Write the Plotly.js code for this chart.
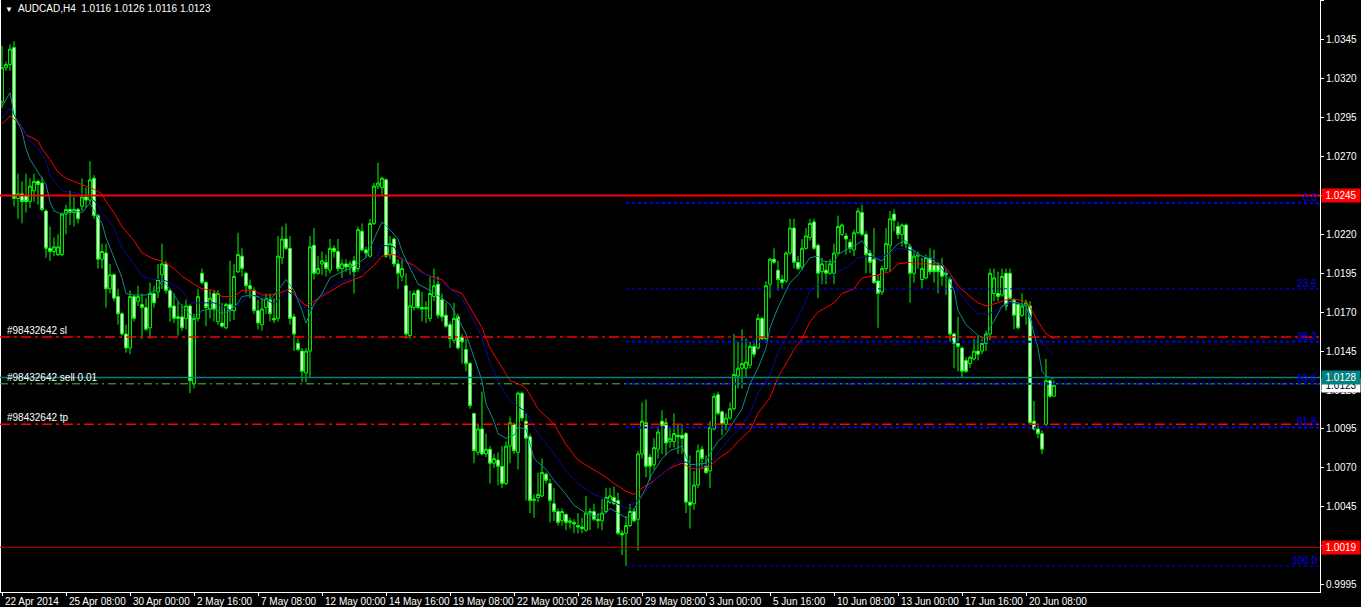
<!DOCTYPE html>
<html><head><meta charset="utf-8">
<script src="https://cdn.plot.ly/plotly-3.0.1.min.js"></script>
<style>html,body{margin:0;padding:0;background:#000;overflow:hidden}#chart{width:1361px;height:607px}</style>
</head><body><div id="chart"></div>
<script>
// ---- OHLC (AUDCAD H4), one entry per bar ----
const opens = [1.0305,1.0327,1.0329,1.0340,1.0243,1.0246,1.0245,1.0241,1.0248,1.0254,1.0253,1.0235,1.0211,1.0209,1.0207,1.0207,1.0233,1.0236,1.0234,1.0236,
1.0238,1.0244,1.0242,1.0256,1.0232,1.0204,1.0208,1.0185,1.0194,1.0180,1.0169,1.0156,1.0147,1.0180,1.0177,1.0175,1.0173,1.0160,1.0182,1.0183,
1.0194,1.0201,1.0184,1.0174,1.0167,1.0167,1.0166,1.0174,1.0124,1.0166,1.0195,1.0189,1.0172,1.0182,1.0164,1.0163,1.0160,1.0175,1.0171,1.0196,
1.0206,1.0195,1.0187,1.0184,1.0171,1.0162,1.0173,1.0178,1.0166,1.0166,1.0205,1.0217,1.0211,1.0167,1.0150,1.0145,1.0131,1.0145,1.0213,1.0195,
1.0201,1.0202,1.0197,1.0211,1.0209,1.0198,1.0201,1.0199,1.0203,1.0198,1.0222,1.0210,1.0206,1.0227,1.0251,1.0250,1.0255,1.0207,1.0217,1.0201,
1.0193,1.0187,1.0155,1.0173,1.0184,1.0173,1.0172,1.0166,1.0180,1.0188,1.0178,1.0168,1.0162,1.0152,1.0167,1.0154,1.0146,1.0137,1.0105,1.0080,
1.0095,1.0079,1.0082,1.0073,1.0075,1.0071,1.0060,1.0084,1.0098,1.0080,1.0118,1.0100,1.0090,1.0049,1.0051,1.0052,1.0066,1.0060,1.0047,1.0042,
1.0036,1.0040,1.0035,1.0035,1.0033,1.0032,1.0030,1.0041,1.0042,1.0037,1.0036,1.0042,1.0048,1.0051,1.0049,1.0028,1.0028,1.0033,1.0042,1.0037,
1.0079,1.0099,1.0077,1.0072,1.0082,1.0100,1.0099,1.0087,1.0087,1.0091,1.0091,1.0092,1.0048,1.0047,1.0059,1.0082,1.0071,1.0068,1.0095,1.0117,
1.0106,1.0098,1.0102,1.0108,1.0129,1.0134,1.0134,1.0136,1.0148,1.0147,1.0166,1.0153,1.0188,1.0204,1.0197,1.0191,1.0190,1.0208,1.0224,1.0202,
1.0199,1.0211,1.0218,1.0228,1.0213,1.0196,1.0197,1.0195,1.0195,1.0208,1.0220,1.0219,1.0215,1.0210,1.0221,1.0234,1.0220,1.0208,1.0204,1.0190,
1.0183,1.0198,1.0213,1.0233,1.0225,1.0220,1.0226,1.0212,1.0195,1.0206,1.0191,1.0192,1.0205,1.0200,1.0200,1.0200,1.0195,1.0191,1.0156,1.0150,
1.0147,1.0139,1.0137,1.0140,1.0145,1.0145,1.0150,1.0156,1.0182,1.0182,1.0181,1.0195,1.0195,1.0178,1.0175,1.0168,1.0174,1.0174,1.0100,1.0095,
1.0092,1.0098,1.0126,1.0116];
const highs = [1.0341,1.0331,1.0342,1.0344,1.0259,1.0254,1.0259,1.0256,1.0259,1.0255,1.0257,1.0236,1.0225,1.0218,1.0220,1.0234,1.0239,1.0248,1.0244,1.0237,
1.0256,1.0250,1.0267,1.0258,1.0233,1.0214,1.0214,1.0201,1.0195,1.0185,1.0170,1.0162,1.0184,1.0181,1.0187,1.0182,1.0179,1.0189,1.0187,1.0201,
1.0214,1.0203,1.0185,1.0182,1.0177,1.0175,1.0178,1.0175,1.0169,1.0185,1.0198,1.0190,1.0184,1.0184,1.0184,1.0176,1.0176,1.0203,1.0201,1.0221,
1.0211,1.0196,1.0191,1.0186,1.0178,1.0179,1.0182,1.0182,1.0179,1.0219,1.0225,1.0227,1.0219,1.0169,1.0153,1.0147,1.0147,1.0219,1.0224,1.0206,
1.0209,1.0207,1.0217,1.0213,1.0217,1.0204,1.0204,1.0203,1.0206,1.0225,1.0227,1.0212,1.0230,1.0253,1.0266,1.0257,1.0256,1.0219,1.0218,1.0204,
1.0205,1.0195,1.0184,1.0184,1.0185,1.0183,1.0177,1.0193,1.0198,1.0193,1.0182,1.0176,1.0164,1.0176,1.0169,1.0156,1.0153,1.0138,1.0105,1.0098,
1.0119,1.0092,1.0084,1.0079,1.0080,1.0084,1.0087,1.0103,1.0099,1.0119,1.0119,1.0105,1.0092,1.0053,1.0067,1.0076,1.0067,1.0063,1.0057,1.0044,
1.0044,1.0041,1.0038,1.0037,1.0041,1.0038,1.0052,1.0044,1.0047,1.0041,1.0050,1.0057,1.0057,1.0058,1.0054,1.0030,1.0039,1.0047,1.0044,1.0081,
1.0112,1.0114,1.0079,1.0089,1.0097,1.0107,1.0102,1.0096,1.0105,1.0098,1.0098,1.0093,1.0078,1.0068,1.0085,1.0084,1.0078,1.0100,1.0118,1.0119,
1.0107,1.0105,1.0112,1.0156,1.0151,1.0159,1.0153,1.0151,1.0150,1.0169,1.0167,1.0190,1.0205,1.0211,1.0203,1.0194,1.0209,1.0230,1.0230,1.0206,
1.0217,1.0224,1.0230,1.0230,1.0214,1.0205,1.0203,1.0204,1.0214,1.0232,1.0227,1.0221,1.0217,1.0223,1.0237,1.0239,1.0222,1.0210,1.0224,1.0194,
1.0200,1.0224,1.0235,1.0236,1.0228,1.0227,1.0227,1.0214,1.0210,1.0209,1.0205,1.0207,1.0211,1.0210,1.0202,1.0205,1.0198,1.0193,1.0157,1.0167,
1.0148,1.0141,1.0142,1.0153,1.0155,1.0153,1.0158,1.0198,1.0198,1.0196,1.0198,1.0198,1.0198,1.0179,1.0176,1.0182,1.0178,1.0177,1.0113,1.0097,
1.0094,1.0140,1.0127,1.0126];
const lows = [1.0301,1.0325,1.0325,1.0238,1.0230,1.0227,1.0234,1.0237,1.0241,1.0239,1.0235,1.0205,1.0203,1.0206,1.0206,1.0206,1.0220,1.0226,1.0225,1.0227,
1.0235,1.0237,1.0240,1.0230,1.0198,1.0198,1.0173,1.0182,1.0177,1.0162,1.0155,1.0144,1.0143,1.0164,1.0174,1.0153,1.0158,1.0153,1.0173,1.0179,
1.0185,1.0182,1.0164,1.0163,1.0155,1.0158,1.0159,1.0118,1.0121,1.0164,1.0188,1.0161,1.0166,1.0164,1.0162,1.0160,1.0159,1.0164,1.0165,1.0195,
1.0193,1.0182,1.0179,1.0169,1.0159,1.0158,1.0169,1.0164,1.0163,1.0164,1.0201,1.0210,1.0162,1.0145,1.0145,1.0125,1.0125,1.0128,1.0191,1.0194,
1.0194,1.0193,1.0195,1.0205,1.0196,1.0192,1.0196,1.0194,1.0182,1.0196,1.0209,1.0205,1.0205,1.0226,1.0249,1.0245,1.0205,1.0204,1.0199,1.0185,
1.0190,1.0153,1.0153,1.0171,1.0172,1.0164,1.0163,1.0164,1.0177,1.0166,1.0164,1.0160,1.0147,1.0150,1.0146,1.0137,1.0132,1.0108,1.0073,1.0078,
1.0078,1.0077,1.0060,1.0070,1.0059,1.0057,1.0059,1.0073,1.0079,1.0069,1.0100,1.0049,1.0041,1.0038,1.0048,1.0051,1.0060,1.0035,1.0036,1.0033,
1.0033,1.0030,1.0031,1.0028,1.0028,1.0028,1.0029,1.0030,1.0036,1.0031,1.0030,1.0041,1.0047,1.0046,1.0027,1.0014,1.0007,1.0032,1.0035,1.0017,
1.0076,1.0064,1.0062,1.0069,1.0076,1.0079,1.0078,1.0083,1.0083,1.0079,1.0079,1.0041,1.0031,1.0043,1.0057,1.0070,1.0066,1.0057,1.0094,1.0104,
1.0091,1.0094,1.0101,1.0107,1.0121,1.0121,1.0128,1.0134,1.0141,1.0146,1.0152,1.0152,1.0179,1.0201,1.0184,1.0185,1.0189,1.0207,1.0198,1.0197,
1.0197,1.0210,1.0216,1.0210,1.0179,1.0188,1.0188,1.0194,1.0188,1.0207,1.0219,1.0207,1.0208,1.0206,1.0220,1.0219,1.0195,1.0195,1.0188,1.0160,
1.0181,1.0196,1.0196,1.0222,1.0217,1.0212,1.0211,1.0176,1.0189,1.0198,1.0185,1.0191,1.0194,1.0189,1.0182,1.0187,1.0181,1.0151,1.0134,1.0132,
1.0128,1.0131,1.0134,1.0139,1.0139,1.0143,1.0145,1.0152,1.0177,1.0177,1.0180,1.0171,1.0178,1.0159,1.0159,1.0167,1.0162,1.0098,1.0094,1.0089,
1.0079,1.0097,1.0115,1.0116];
const closes = [1.0327,1.0329,1.0339,1.0243,1.0246,1.0241,1.0241,1.0251,1.0254,1.0252,1.0236,1.0211,1.0209,1.0212,1.0212,1.0233,1.0236,1.0234,1.0236,1.0230,
1.0244,1.0242,1.0255,1.0232,1.0204,1.0209,1.0185,1.0194,1.0179,1.0169,1.0156,1.0147,1.0180,1.0166,1.0180,1.0173,1.0159,1.0182,1.0176,1.0191,
1.0201,1.0184,1.0173,1.0166,1.0166,1.0160,1.0174,1.0126,1.0166,1.0180,1.0189,1.0173,1.0179,1.0172,1.0182,1.0161,1.0175,1.0171,1.0193,1.0207,
1.0198,1.0187,1.0185,1.0171,1.0163,1.0172,1.0179,1.0169,1.0165,1.0206,1.0217,1.0211,1.0166,1.0156,1.0146,1.0132,1.0145,1.0212,1.0195,1.0198,
1.0203,1.0198,1.0211,1.0209,1.0198,1.0201,1.0199,1.0201,1.0196,1.0223,1.0210,1.0208,1.0227,1.0251,1.0253,1.0256,1.0206,1.0214,1.0201,1.0195,
1.0198,1.0156,1.0174,1.0182,1.0173,1.0172,1.0173,1.0182,1.0187,1.0168,1.0167,1.0161,1.0153,1.0166,1.0147,1.0151,1.0137,1.0110,1.0081,1.0095,
1.0079,1.0082,1.0073,1.0076,1.0071,1.0060,1.0084,1.0099,1.0081,1.0118,1.0102,1.0089,1.0049,1.0050,1.0053,1.0067,1.0062,1.0049,1.0042,1.0035,
1.0042,1.0035,1.0036,1.0034,1.0032,1.0031,1.0041,1.0042,1.0037,1.0036,1.0041,1.0051,1.0052,1.0047,1.0028,1.0027,1.0033,1.0042,1.0036,1.0079,
1.0100,1.0071,1.0071,1.0083,1.0093,1.0097,1.0086,1.0089,1.0092,1.0090,1.0089,1.0048,1.0046,1.0059,1.0081,1.0076,1.0067,1.0096,1.0116,1.0105,
1.0098,1.0102,1.0108,1.0130,1.0134,1.0137,1.0138,1.0148,1.0143,1.0166,1.0153,1.0187,1.0204,1.0202,1.0191,1.0189,1.0208,1.0224,1.0202,1.0198,
1.0211,1.0219,1.0227,1.0211,1.0195,1.0201,1.0195,1.0201,1.0208,1.0225,1.0226,1.0217,1.0211,1.0221,1.0235,1.0220,1.0207,1.0202,1.0189,1.0182,
1.0198,1.0214,1.0230,1.0229,1.0220,1.0226,1.0214,1.0195,1.0206,1.0207,1.0198,1.0205,1.0196,1.0196,1.0196,1.0193,1.0194,1.0156,1.0150,1.0148,
1.0132,1.0132,1.0141,1.0145,1.0143,1.0150,1.0156,1.0195,1.0192,1.0180,1.0193,1.0174,1.0179,1.0168,1.0160,1.0174,1.0176,1.0099,1.0095,1.0092,
1.0082,1.0126,1.0116,1.0123];

// ---- moving averages, sampled (bar index -> value) ----
const maFastBars = [0,2,3,5,6,7,9,11,12,13,15,16,18,20,21,22,23,25,26,28,30,31,33,35,36,39,40,42,44,45,47,48,50,52,54,55,57,59,60,62,64,65,67,69,71,73,75,76,78,80,82,85,87,90,91,93,95,97,99,100,102,104,107,110,112,114,116,118,120,121,123,124,126,128,129,131,133,136,138,141,143,146,148,151,152,154,156,157,159,161,162,165,167,170,171,172,176,177,179,181,182,185,187,189,191,192,194,196,197,199,202,204,205,208,209,211,214,215,216,218,220,221,224,226,227,229,232,234,236,238,239,241,243,244,246,247,249,250,252,254,256,257,259,260,261,263];
const maFastVals = [1.0302,1.0311,1.0297,1.0286,1.0275,1.0268,1.0260,1.0252,1.0241,1.0235,1.0233,1.0234,1.0235,1.0234,1.0237,1.0240,1.0235,1.0227,1.0218,1.0205,1.0192,1.0182,1.0181,1.0181,1.0181,1.0185,1.0191,1.0185,1.0177,1.0174,1.0169,1.0166,1.0171,1.0172,1.0171,1.0169,1.0171,1.0176,1.0180,1.0181,1.0180,1.0178,1.0178,1.0184,1.0191,1.0184,1.0171,1.0163,1.0175,1.0182,1.0192,1.0196,1.0198,1.0203,1.0205,1.0217,1.0228,1.0223,1.0217,1.0209,1.0198,1.0188,1.0184,1.0179,1.0175,1.0166,1.0156,1.0141,1.0126,1.0111,1.0100,1.0092,1.0089,1.0091,1.0096,1.0095,1.0076,1.0069,1.0062,1.0053,1.0046,1.0041,1.0039,1.0041,1.0044,1.0041,1.0038,1.0039,1.0048,1.0057,1.0064,1.0076,1.0081,1.0084,1.0077,1.0072,1.0073,1.0079,1.0087,1.0092,1.0096,1.0108,1.0124,1.0134,1.0147,1.0160,1.0173,1.0184,1.0189,1.0194,1.0205,1.0206,1.0203,1.0202,1.0207,1.0210,1.0214,1.0216,1.0212,1.0205,1.0203,1.0206,1.0214,1.0216,1.0212,1.0207,1.0204,1.0201,1.0194,1.0184,1.0171,1.0162,1.0157,1.0155,1.0153,1.0160,1.0169,1.0174,1.0177,1.0176,1.0174,1.0166,1.0147,1.0132,1.0129,1.0127];
const maMidBars = [0,2,3,5,7,9,11,12,14,15,17,20,21,22,24,25,28,30,33,35,38,40,42,45,47,50,53,55,57,60,62,65,68,71,74,76,78,80,84,88,91,94,95,98,100,103,106,110,112,115,117,120,122,125,127,130,131,134,138,141,144,148,151,153,156,158,161,163,166,169,172,174,177,179,182,184,187,189,192,194,197,198,200,202,204,207,209,212,214,217,219,222,224,227,229,232,234,237,239,242,244,247,249,252,254,256,258,260,262,263];
const maMidVals = [1.0294,1.0301,1.0297,1.0289,1.0280,1.0275,1.0267,1.0258,1.0251,1.0248,1.0247,1.0246,1.0245,1.0244,1.0239,1.0234,1.0224,1.0211,1.0201,1.0193,1.0191,1.0191,1.0189,1.0184,1.0176,1.0176,1.0176,1.0174,1.0171,1.0177,1.0181,1.0180,1.0175,1.0184,1.0179,1.0171,1.0175,1.0181,1.0189,1.0192,1.0200,1.0207,1.0213,1.0212,1.0204,1.0198,1.0194,1.0189,1.0185,1.0179,1.0169,1.0154,1.0137,1.0121,1.0113,1.0108,1.0106,1.0092,1.0079,1.0068,1.0060,1.0053,1.0050,1.0048,1.0044,1.0047,1.0055,1.0062,1.0068,1.0075,1.0073,1.0070,1.0073,1.0080,1.0089,1.0094,1.0105,1.0118,1.0130,1.0144,1.0158,1.0162,1.0172,1.0184,1.0188,1.0192,1.0196,1.0200,1.0205,1.0206,1.0205,1.0208,1.0211,1.0210,1.0207,1.0205,1.0203,1.0194,1.0184,1.0174,1.0169,1.0169,1.0172,1.0176,1.0176,1.0174,1.0162,1.0150,1.0145,1.0142];
const maSlowBars = [0,2,3,5,6,9,10,12,14,16,19,21,23,25,26,28,30,33,35,38,40,43,45,48,50,53,55,58,60,63,65,67,69,72,74,76,78,81,85,90,93,95,98,100,103,106,110,112,115,117,120,122,125,127,130,131,132,134,138,141,144,148,151,153,156,158,160,162,165,167,170,172,174,177,179,182,184,187,189,192,194,197,198,200,202,204,208,210,213,215,217,219,222,224,227,229,232,235,237,239,242,244,246,249,251,254,256,257,259,261,263];
const maSlowVals = [1.0291,1.0296,1.0294,1.0289,1.0284,1.0280,1.0275,1.0268,1.0260,1.0256,1.0253,1.0251,1.0249,1.0246,1.0241,1.0234,1.0225,1.0216,1.0208,1.0204,1.0203,1.0198,1.0193,1.0188,1.0185,1.0184,1.0180,1.0180,1.0184,1.0184,1.0181,1.0181,1.0182,1.0185,1.0179,1.0174,1.0177,1.0182,1.0188,1.0193,1.0200,1.0206,1.0207,1.0204,1.0200,1.0194,1.0191,1.0185,1.0182,1.0173,1.0160,1.0147,1.0134,1.0126,1.0123,1.0121,1.0117,1.0108,1.0098,1.0085,1.0075,1.0069,1.0064,1.0060,1.0055,1.0053,1.0057,1.0060,1.0066,1.0070,1.0073,1.0070,1.0069,1.0071,1.0076,1.0081,1.0087,1.0094,1.0105,1.0115,1.0128,1.0142,1.0146,1.0153,1.0164,1.0170,1.0176,1.0182,1.0185,1.0192,1.0193,1.0194,1.0196,1.0201,1.0202,1.0201,1.0201,1.0201,1.0195,1.0187,1.0180,1.0176,1.0174,1.0176,1.0178,1.0178,1.0177,1.0173,1.0164,1.0156,1.0153];

// ---- time axis labels (bar index of each label) ----
const xTickBars = [0,16,32,48,64,80,96,112,128,144,160,176,192,208,224,240,256];
const xTickText = ['22 Apr 2014','25 Apr 08:00','30 Apr 00:00','2 May 16:00','7 May 08:00','12 May 00:00','14 May 16:00','19 May 08:00','22 May 00:00','26 May 16:00','29 May 08:00','3 Jun 00:00','5 Jun 16:00','10 Jun 08:00','13 Jun 00:00','17 Jun 16:00','20 Jun 08:00'];

// ---- horizontal levels ----
const resistancePrice = 1.0245;
const supportPrice = 1.0019;
const orderPrice = 1.0128;
const openLinePrice = 1.0124;
const bidPrice = 1.0123;
const slPrice = 1.0154;
const tpPrice = 1.0098;
const orderLabels = ['#98432642 sl', '#98432642 sell 0.01', '#98432642 tp'];

// ---- Fibonacci retracement ----
const fibStartBar = 156;
const fibLevelNames = ['0.0','23.6','38.2','50.0','61.8','100.0'];
const fibLevelPrices = [1.0240, 1.0185, 1.0151, 1.0124, 1.0096, 1.0007];
const fibLevelWidths = [2, 1, 2, 2, 2, 1];

const chartTitle = 'AUDCAD,H4  1.0116 1.0126 1.0116 1.0123';

const barIndex = opens.map((_, i) => i);
const FONT = 'Liberation Sans, Arial, sans-serif';
const X_MAX = 329.5;

const traces = [
  {type:'candlestick', x:barIndex, open:opens, high:highs, low:lows, close:closes,
   increasing:{line:{color:'#00ff00', width:1}, fillcolor:'#000000'},
   decreasing:{line:{color:'#00ff00', width:1}, fillcolor:'#ffffff'},
   whiskerwidth:0, hoverinfo:'skip', showlegend:false},
  {type:'scatter', mode:'lines', x:maSlowBars, y:maSlowVals, line:{color:'#ff0000', width:1}, hoverinfo:'skip'},
  {type:'scatter', mode:'lines', x:maMidBars, y:maMidVals, line:{color:'#0a0a96', width:1}, hoverinfo:'skip'},
  {type:'scatter', mode:'lines', x:maFastBars, y:maFastVals, line:{color:'#0d8c8c', width:1}, hoverinfo:'skip'}
];

const hline = (y, color, width, dash) => ({type:'line', xref:'paper', x0:0, x1:1, yref:'y', y0:y, y1:y, line:{color, width, dash: dash || 'solid'}});
const shapes = [
  {type:'line', xref:'paper', yref:'paper', x0:0, x1:0, y0:0, y1:1, line:{color:'#ffffff', width:2}},
  hline(resistancePrice, '#ff0000', 2),
  hline(supportPrice, '#d00000', 1),
  hline(slPrice, '#ff0000', 1.5, '10px,4px,3px,4px'),
  hline(tpPrice, '#ff0000', 1.5, '10px,4px,3px,4px'),
  hline(orderPrice, '#008080', 1.5),
  hline(openLinePrice, '#32cd32', 1, '8px,4px,2px,4px')
];
fibLevelPrices.forEach((p, k) => {
  shapes.push({type:'line', xref:'x', x0:fibStartBar, x1:X_MAX, yref:'y', y0:p, y1:p,
    line:{color:'#0000ff', width:fibLevelWidths[k], dash:'3px,3px'}});
});

const annotations = [];
xTickBars.forEach((b, k) => {
  annotations.push({xref:'x', x:b, xanchor:'left', xshift:1, yref:'paper', y:0, yanchor:'top', yshift:-2,
    text:xTickText[k], showarrow:false, font:{family:FONT, size:10, color:'#ffffff'}});
});
fibLevelNames.forEach((t, k) => {
  annotations.push({xref:'paper', x:1, xanchor:'right', xshift:-1, yref:'y', y:fibLevelPrices[k], yanchor:'bottom', yshift:-2,
    text:t, showarrow:false, font:{family:FONT, size:10, color:'#0000ff'}});
});
const leftLabel = (txt, y, anchor, shift) => ({xref:'paper', x:0, xanchor:'left', xshift:5, yref:'y', y, yanchor:anchor, yshift:shift,
  text:txt, showarrow:false, font:{family:FONT, size:10, color:'#ffffff'}});
annotations.push(leftLabel(orderLabels[0], slPrice, 'bottom', -1));
annotations.push(leftLabel(orderLabels[1], orderPrice, 'middle', 0));
annotations.push(leftLabel(orderLabels[2], tpPrice, 'bottom', -1));
const priceBox = (p, bg, fg) => ({xref:'paper', x:1, xanchor:'left', xshift:1, yref:'y', y:p, yanchor:'middle',
  text:p.toFixed(4), showarrow:false, bgcolor:bg, width:36, height:11, borderpad:1, font:{family:FONT, size:10, color:fg}});
annotations.push(priceBox(resistancePrice, '#ff0000', '#ffffff'));
annotations.push(priceBox(bidPrice, '#ffffff', '#000000'));
annotations.push(priceBox(orderPrice, '#008080', '#ffffff'));
annotations.push(priceBox(supportPrice, '#ff0000', '#ffffff'));

const layout = {
  width:1361, height:607,
  margin:{l:0, r:41, t:0, b:15, pad:0},
  paper_bgcolor:'#000000', plot_bgcolor:'#000000',
  showlegend:false, hovermode:false,
  boxgap:0.3, boxgroupgap:0,
  title:{text:'<span style="font-size:8px">▼</span>  ' + chartTitle, xref:'container', x:5/1361, xanchor:'left',
         yref:'container', y:1 - 8/607, yanchor:'middle', font:{family:FONT, size:10, color:'#ffffff'}},
  xaxis:{range:[-0.5, X_MAX], showgrid:false, zeroline:false, showline:true, linecolor:'#ffffff', linewidth:1,
         ticks:'outside', ticklen:3, tickcolor:'#ffffff', tickvals:xTickBars, showticklabels:false,
         rangeslider:{visible:false}, fixedrange:true},
  yaxis:{side:'right', range:[0.99903, 1.03705], showgrid:false, zeroline:false, showline:true, linecolor:'#ffffff', linewidth:1,
         ticks:'outside', ticklen:3, tickcolor:'#ffffff', tick0:0.9995, dtick:0.0025, tickformat:'.4f',
         tickfont:{family:FONT, size:10, color:'#ffffff'}, fixedrange:true},
  shapes, annotations
};

Plotly.newPlot('chart', traces, layout, {displayModeBar:false, staticPlot:true});
</script>
</body></html>
